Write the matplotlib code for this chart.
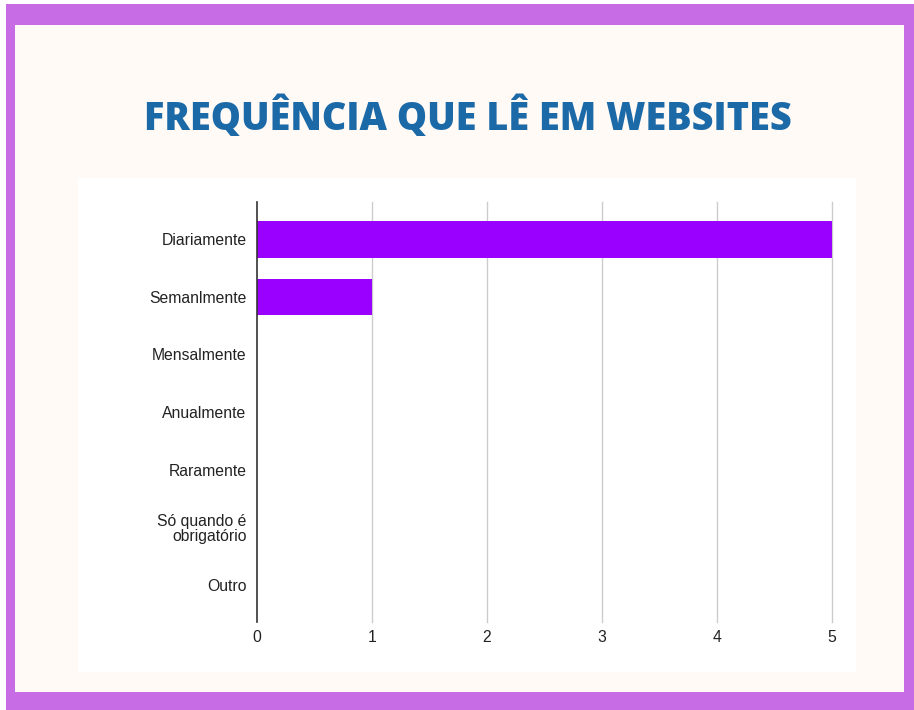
import matplotlib
matplotlib.use("Agg")
import matplotlib.pyplot as plt
from matplotlib.patches import Rectangle

categories = ["Diariamente", "Semanlmente", "Mensalmente", "Anualmente",
              "Raramente", "Só quando é\nobrigatório", "Outro"]
values = [5, 1, 0, 0, 0, 0, 0]
x_ticks = [0, 1, 2, 3, 4, 5]
title = "FREQUÊNCIA QUE LÊ EM WEBSITES"

W, H = 914, 710
fig = plt.figure(figsize=(W / 100, H / 100), dpi=100)
fig.patch.set_facecolor("white")

def rect(x0, y0, x1, y1, color):
    fig.patches.append(Rectangle((x0 / W, 1 - y1 / H), (x1 - x0) / W, (y1 - y0) / H,
                                 transform=fig.transFigure, facecolor=color,
                                 edgecolor="none", zorder=-10))

rect(6, 4, 914, 710, "#c86ce6")
rect(15, 25, 904, 692, "#fffaf5")
rect(78, 178, 856, 672, "#ffffff")

fig.text(468 / W, 1 - 118 / H, title, ha="center", va="center",
         fontsize=27.3, fontweight="heavy", color="#1c69a8", family="Open Sans")

ax_l, ax_r, ax_t, ax_b = 257, 832, 202, 622
ax = fig.add_axes([ax_l / W, 1 - ax_b / H, (ax_r - ax_l) / W, (ax_b - ax_t) / H])
ax.set_facecolor("none")

ypos = list(range(len(categories)))
ax.barh(ypos, values, height=0.64, color="#9900ff", zorder=3)
ax.set_ylim(6.65, -0.65)
ax.set_xlim(0, 5)
ax.set_yticks(ypos)
ax.set_yticklabels(categories, fontsize=11.3, color="#222222", family="Liberation Sans",
                   multialignment="right", linespacing=1.0)
ax.set_xticks(x_ticks)
ax.set_xticklabels([str(t) for t in x_ticks], fontsize=11.3, color="#222222",
                   family="Liberation Sans")
ax.tick_params(axis="both", length=0)
ax.tick_params(axis="y", pad=7.5)
ax.tick_params(axis="x", pad=6)
for x in x_ticks[1:]:
    ax.axvline(x, color="#cccccc", lw=1, zorder=1, clip_on=False)
for s in ["top", "right", "bottom"]:
    ax.spines[s].set_visible(False)
ax.spines["left"].set_color("#333333")
ax.spines["left"].set_linewidth(1.2)
ax.spines["left"].set_zorder(4)

fig.savefig("out.png", dpi=100)
